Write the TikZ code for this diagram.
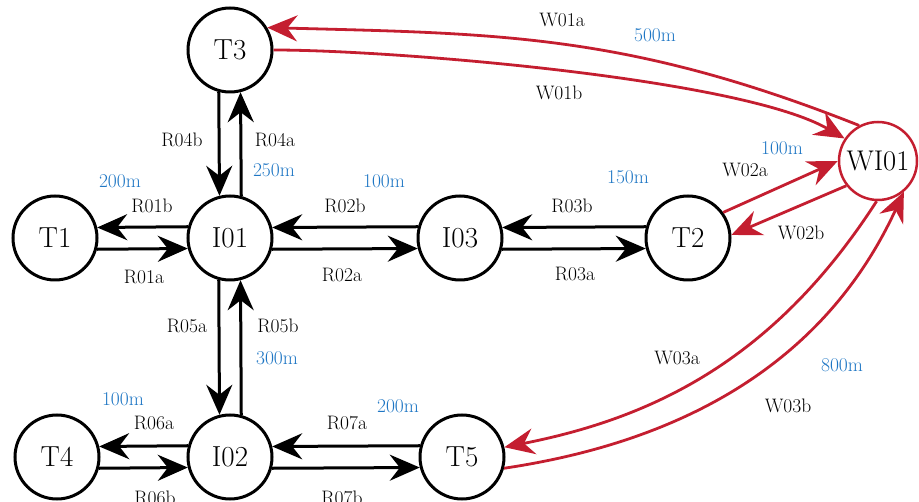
\documentclass[tikz,border=0pt]{standalone}
\usepackage{fontspec}
\usetikzlibrary{arrows.meta}
\definecolor{wirered}{RGB}{196,30,48}
\definecolor{distblue}{RGB}{30,118,196}
\begin{document}
\begin{tikzpicture}[x=1pt,y=-1pt,
  stop/.style={circle,draw=black,line width=3pt,minimum size=84pt,inner sep=0pt,
    font=\rmfamily\fontsize{29}{34}\selectfont},
  hub/.style={circle,draw=wirered,line width=2.5pt,minimum size=78pt,inner sep=0pt,
    font=\rmfamily\fontsize{28.5}{34}\selectfont},
  road/.style={line width=3pt,-{Stealth[length=30pt,width=26pt,inset=10pt]}},
  wire/.style={color=wirered,line width=2.8pt,-{Stealth[length=30pt,width=26pt,inset=10pt]}},
  lbl/.style={anchor=base,font=\rmfamily\fontsize{19.5}{24}\selectfont,inner sep=0pt},
  dist/.style={lbl,text=distblue}]
\useasboundingbox (0,0) rectangle (919,502);

% stations
\node[stop] (T3)  at (230,50)  {T3};
\node[stop] (T1)  at (55,238)  {T1};
\node[stop] (I01) at (230,238) {I01};
\node[stop] (I03) at (460,238) {I03};
\node[stop] (T2)  at (688,238) {T2};
\node[stop] (T4)  at (57,457)  {T4};
\node[stop] (I02) at (230,457) {I02};
\node[stop] (T5)  at (462,457) {T5};
\node[hub]  (WI01) at (878,161) {WI01};

% two-way roads
\draw[road] (I01.165.5) -- (T1.14.5);
\draw[road] (T1.345.5) -- (I01.194.5);
\draw[road] (I03.165.5) -- (I01.14.5);
\draw[road] (I01.345.5) -- (I03.194.5);
\draw[road] (T2.165.5) -- (I03.14.5);
\draw[road] (I03.345.5) -- (T2.194.5);
\draw[road] (I02.165.5) -- (T4.14.5);
\draw[road] (T4.345.5) -- (I02.194.5);
\draw[road] (T5.165.5) -- (I02.14.5);
\draw[road] (I02.345.5) -- (T5.194.5);
\draw[road] (T3.255.5) -- (I01.104.5);
\draw[road] (I01.75.5) -- (T3.284.5);
\draw[road] (I01.255.5) -- (I02.104.5);
\draw[road] (I02.75.5) -- (I01.284.5);

% links to the hub
\draw[wire] (WI01.118) .. controls +(-232,-92) and +(230,6) .. (T3.31);
\draw[wire] (T3.0) .. controls +(120,0) and +(-104,-60) .. (WI01.146);
\draw[wire] (T2.36) -- (WI01.180);
\draw[wire] (WI01.218) -- (T2.4);
\draw[wire] (WI01.268) .. controls +(-103,160) and +(147,-29) .. (T5.13);
\draw[wire] (T5.345) .. controls +(148,-22) and +(-88,191) .. (WI01.310);

% road names and lengths
\node[lbl]  (lR04b) at (182,147) {R04b};
\node[lbl]  (lR04a) at (275,147) {R04a};
\node[dist] (d04)   at (274,177) {250m};
\node[dist] (d01)   at (120,188) {200m};
\node[lbl]  (lR01b) at (152,213) {R01b};
\node[lbl]  (lR01a) at (144,284) {R01a};
\node[dist] (d02)   at (384,188) {100m};
\node[lbl]  (lR02b) at (345,213) {R02b};
\node[lbl]  (lR02a) at (342,282) {R02a};
\node[dist] (d03)   at (628,184) {150m};
\node[lbl]  (lR03b) at (572,213) {R03b};
\node[lbl]  (lR03a) at (575,281) {R03a};
\node[lbl]  (lR05a) at (187,333) {R05a};
\node[lbl]  (lR05b) at (278,333) {R05b};
\node[dist] (d05)   at (277,365) {300m};
\node[dist] (d06)   at (123,406) {100m};
\node[lbl]  (lR06a) at (154,430) {R06a};
\node[lbl]  (lR06b) at (155,505) {R06b};
\node[dist] (d07)   at (398,413) {200m};
\node[lbl]  (lR07a) at (347,430) {R07a};
\node[lbl]  (lR07b) at (342,505) {R07b};
\node[lbl]  (lW01a) at (562,27)  {W01a};
\node[dist] (dW01)  at (655,42)  {500m};
\node[lbl]  (lW01b) at (559,100) {W01b};
\node[dist] (dW02)  at (782,155) {100m};
\node[lbl]  (lW02a) at (745,177) {W02a};
\node[lbl]  (lW02b) at (801,240) {W02b};
\node[lbl]  (lW03a) at (677,365) {W03a};
\node[dist] (dW03)  at (842,372) {800m};
\node[lbl]  (lW03b) at (788,413) {W03b};
\end{tikzpicture}
\end{document}
